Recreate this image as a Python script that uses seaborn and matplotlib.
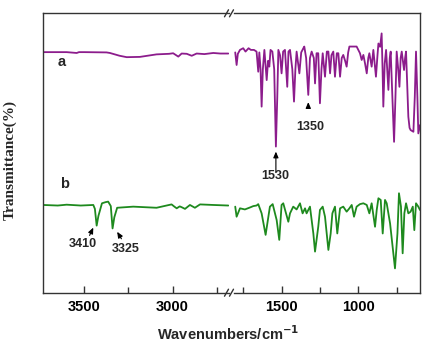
import matplotlib
matplotlib.use("Agg")
import matplotlib.pyplot as plt
from matplotlib.lines import Line2D
import seaborn as sns
import pandas as pd

# ---------------- data ----------------
# spectrum a (purple), high-wavenumber part
a_hi_wn = [3732, 3600, 3543, 3530, 3500, 3374, 3355, 3300, 3260, 3185, 3091, 3020,
           2997, 2968, 2949, 2920, 2892, 2864, 2820, 2770, 2730, 2685]
a_hi_t = [86.1, 86.1, 85.8, 86.1, 86.1, 86.0, 85.8, 84.8, 84.3, 84.4, 85.3, 85.5,
          85.7, 84.5, 85.6, 85.5, 84.8, 85.6, 85.4, 85.8, 85.6, 85.6]
# spectrum a, fingerprint part
a_lo_wn = [1802, 1793, 1785, 1771, 1750, 1735, 1715, 1700, 1680, 1663, 1652, 1645,
           1637, 1630, 1622, 1612, 1597, 1588, 1580, 1572, 1560, 1548, 1537, 1528,
           1521, 1510, 1500, 1490, 1478, 1463, 1455, 1445, 1430, 1419, 1410, 1402,
           1384, 1372, 1358, 1352, 1340, 1326, 1315, 1304, 1290, 1282, 1272, 1261,
           1250, 1240, 1232, 1217, 1205, 1195, 1184, 1175, 1163, 1152, 1140, 1130,
           1119, 1108, 1098, 1086, 1076, 1066, 1058, 1011, 1000, 989, 978, 967,
           956, 945, 935, 928, 913, 902, 885, 875, 869, 858, 848, 842, 837, 828,
           819, 804, 795, 789, 778, 767, 758, 750, 740, 732, 724, 717, 702, 695,
           689, 674, 666, 659, 641, 632, 624, 615, 609, 598]
a_lo_t = [86.0, 81.5, 85.5, 86.9, 87.5, 86.3, 87.5, 86.9, 86.9, 86.3, 79.1, 86.0,
          80.0, 66.6, 80.0, 86.9, 76.1, 83.0, 80.9, 86.9, 86.3, 80.0, 52.3, 70.0,
          86.9, 85.0, 78.5, 86.3, 86.9, 73.7, 86.3, 86.9, 80.0, 68.4, 80.0, 86.3,
          78.5, 86.0, 87.5, 88.1, 84.0, 70.8, 84.0, 86.3, 84.0, 74.9, 85.7, 85.7,
          67.8, 80.0, 85.7, 77.3, 86.3, 86.3, 78.5, 85.0, 86.3, 77.3, 85.7, 85.7,
          77.3, 84.0, 85.1, 83.0, 80.9, 86.0, 88.1, 88.1, 86.9, 85.7, 83.3, 85.1,
          82.0, 78.5, 84.0, 85.7, 80.9, 86.9, 77.3, 85.0, 89.2, 88.0, 92.8, 80.0,
          66.6, 82.0, 86.9, 72.6, 84.0, 86.3, 70.0, 54.0, 70.0, 86.3, 80.0, 73.7,
          84.0, 86.3, 79.7, 84.0, 86.3, 63.0, 59.0, 58.2, 57.6, 70.0, 86.3, 70.0,
          57.0, 60.0]

# spectrum b (green), high-wavenumber part
b_hi_wn = [3732, 3650, 3600, 3520, 3449, 3440, 3430, 3420, 3400, 3380, 3365, 3350,
           3340, 3330, 3314, 3223, 3091, 3006, 2990, 2977, 2960, 2949, 2930, 2902,
           2874, 2845, 2770, 2685]
b_hi_t = [31.4, 31.2, 31.5, 31.2, 31.4, 30.0, 24.0, 27.5, 32.0, 32.4, 32.6, 31.0,
          23.0, 27.0, 30.4, 30.8, 30.4, 31.6, 30.8, 30.2, 30.9, 30.6, 30.0, 31.4,
          30.4, 31.6, 31.4, 31.2]
# spectrum b, fingerprint part
b_lo_wn = [1802, 1793, 1771, 1739, 1706, 1684, 1663, 1652, 1630, 1604, 1576, 1558,
           1532, 1515, 1500, 1489, 1471, 1456, 1445, 1424, 1402, 1380, 1363, 1347,
           1337, 1315, 1293, 1282, 1261, 1250, 1232, 1217, 1195, 1180, 1169, 1152,
           1137, 1119, 1098, 1076, 1058, 1043, 1028, 1011, 989, 967, 945, 928, 913,
           891, 880, 869, 854, 841, 826, 815, 793, 761, 745, 735, 722, 711, 700,
           689, 674, 659, 645, 635, 624, 609, 598]
b_lo_t = [30.8, 27.2, 30.2, 29.8, 30.5, 31.0, 31.2, 31.7, 28.4, 20.7, 30.8, 31.7,
          26.0, 18.9, 31.4, 32.0, 28.4, 25.4, 28.4, 30.8, 29.8, 32.0, 28.4, 30.2,
          28.4, 30.8, 21.2, 14.7, 23.6, 29.6, 30.8, 27.2, 15.3, 21.2, 28.4, 30.8,
          21.2, 30.2, 30.8, 29.0, 30.2, 31.4, 27.2, 30.8, 31.7, 32.0, 31.4, 28.4,
          32.0, 23.6, 29.6, 33.8, 33.2, 21.2, 33.2, 32.0, 24.8, 8.7, 21.2, 35.6,
          30.8, 14.1, 28.4, 32.0, 28.4, 29.0, 30.8, 22.4, 32.0, 30.8, 29.6]

left_ticks = [3500, 3000]
left_minor = [3250, 2750]
right_ticks = [1500, 1000]
right_minor = [1750, 1250, 750]

PURPLE = "#8C1C8C"
GREEN = "#1E8A1E"

# ---------------- figure ----------------
sns.set_style("white")
plt.rcParams["font.family"] = ["Liberation Sans", "DejaVu Sans"]

W, H = 422, 342
fig = plt.figure(figsize=(W / 100, H / 100), dpi=100)

def fx(px):
    return px / W

def fy(py):
    return 1 - py / H

top, bot = 13.3, 292.7
axL = fig.add_axes([fx(43.3), fy(bot), fx(229 - 43.3), (bot - top) / H])
axR = fig.add_axes([fx(234), fy(bot), fx(420 - 234), (bot - top) / H])

dfs = [
    (axL, a_hi_wn, a_hi_t, PURPLE),
    (axL, b_hi_wn, b_hi_t, GREEN),
    (axR, a_lo_wn, a_lo_t, PURPLE),
    (axR, b_lo_wn, b_lo_t, GREEN),
]
for ax, wn, t, col in dfs:
    df = pd.DataFrame({"wn": wn, "t": t})
    sns.lineplot(data=df, x="wn", y="t", ax=ax, color=col, lw=1.3,
                 sort=False, estimator=None)

axL.set_xlim(3732, 2681)
axR.set_xlim(1810, 598)
for ax in (axL, axR):
    ax.set_ylim(0, 100)
    ax.set_xlabel("")
    ax.set_ylabel("")
    ax.set_yticks([])
    for s in ax.spines.values():
        s.set_color("#333333")
        s.set_linewidth(1.0)
    ax.tick_params(axis="x", which="both", direction="in", bottom=True,
                   colors="#333333", labelcolor="black", labelsize=10.5, pad=5)
    ax.tick_params(axis="x", which="major", length=5, width=1)
    ax.tick_params(axis="x", which="minor", length=4, width=1)
    for lab in ax.get_xticklabels():
        lab.set_fontweight("bold")

axL.set_xticks(left_ticks)
axL.set_xticks(left_minor, minor=True)
axR.set_xticks(right_ticks)
axR.set_xticks(right_minor, minor=True)
for ax in (axL, axR):
    for lab in ax.get_xticklabels():
        lab.set_fontweight("bold")
axL.spines["right"].set_visible(False)
axR.spines["left"].set_visible(False)

# break marks
for py in (top, bot):
    for px in (226.5, 231.5):
        fig.add_artist(Line2D([fx(px - 2), fx(px + 2)], [fy(py + 3.5), fy(py - 3.5)],
                              transform=fig.transFigure, color="#333333", lw=1.0))

# labels
fig.text(fx(10), fy(160), "Transmittance(%)", rotation=90, ha="center", va="center",
         family=["Liberation Serif", "DejaVu Serif"], fontweight="bold", fontsize=11)
fig.text(fx(228), fy(340), r"Wavenumbers/cm$^{\mathbf{-1}}$", ha="center", va="baseline",
         fontweight="bold", fontsize=10.5)

axL.text(3628, 82.7, "a", fontweight="bold", fontsize=10.5, ha="center", va="center")
axL.text(3614, 38.9, "b", fontweight="bold", fontsize=10.5, ha="center", va="center")

arrow = dict(arrowstyle="-|>,head_length=0.35,head_width=0.15", color="black", lw=0.8,
             shrinkA=0, shrinkB=0)
axL.annotate("", xy=(3449, 23.3), xytext=(3470, 20.5), arrowprops=arrow)
axL.text(3506, 17.4, "3410", fontweight="bold", fontsize=9, ha="center", va="center")
axL.annotate("", xy=(3314, 21.8), xytext=(3290, 19.3), arrowprops=arrow)
axL.text(3264, 15.5, "3325", fontweight="bold", fontsize=9, ha="center", va="center")

axR.annotate("", xy=(1537, 50.5), xytext=(1537, 43.0), arrowprops=arrow)
axR.text(1543, 41.8, "1530", fontweight="bold", fontsize=9, ha="center", va="center")
axR.annotate("", xy=(1326, 68.2), xytext=(1326, 66.2), arrowprops=arrow)
axR.text(1315, 59.4, "1350", fontweight="bold", fontsize=9, ha="center", va="center")

fig.savefig("out.png", dpi=100)
